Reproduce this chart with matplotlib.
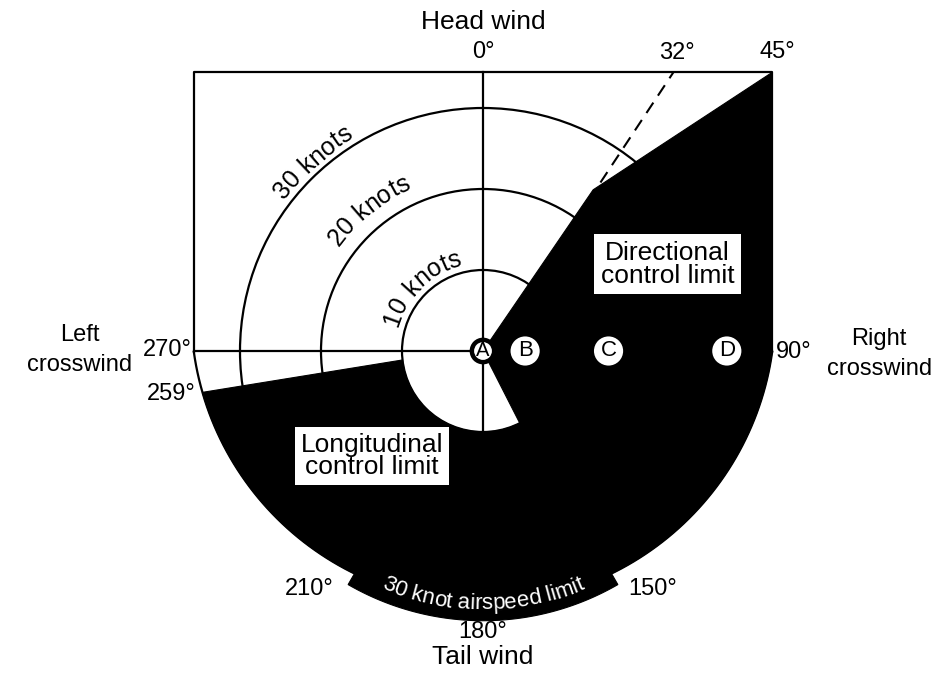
import numpy as np
import matplotlib.pyplot as plt
from matplotlib.patches import Polygon, Circle
from matplotlib.font_manager import FontProperties, findfont
from matplotlib import ft2font

plt.rcParams['font.family'] = ['Liberation Sans', 'DejaVu Sans']

# everything in knots, centre of the diagram = zero wind
rings = [10, 20, 30]
ring_labels = ['10 knots', '20 knots', '30 knots']
ring_label_bearing = [-44, -39, -42]
ring_label_radius = [10.9, 21.9, 30.8]

frame_half_width = 35.7
frame_top = 34.4
outer_centre_y = 4.9
outer_radius = 36.05
airspeed_limit = 33.3
airspeed_bearings = (150, 210)

# directional control limit edge (from centre up to the 45 deg corner)
dir_edge = [(0.0, 0.0), (13.6, 19.9)]
# longitudinal control limit edge (outer point, point on 10 kn ring)
long_outer = (-34.6, -5.1)
long_inner = (-9.9, -1.1)
inner_gap_bearing = 153
dashed_32 = [(14.5, 20.8), (23.5, 34.4)]

points = ['A', 'B', 'C', 'D']
points_x = [0.0, 5.2, 15.5, 30.1]

S = 8.1  # px per knot in the 943x684 picture
fig = plt.figure(figsize=(9.43, 6.84), dpi=100)
ax = fig.add_axes([0, 0, 1, 1])
ax.set_xlim(-483 / S, 460 / S)
ax.set_ylim(-333 / S, 351 / S)
ax.axis('off')

LW = 1.6
FS = 17


def brg(b, r):
    b = np.radians(b)
    return r * np.sin(b), r * np.cos(b)


def outer_psi_at_bearing(b):
    # where the ray on bearing b meets the outer arc
    s, c = np.sin(np.radians(b)), np.cos(np.radians(b))
    k = outer_centre_y
    t = c * k + np.sqrt((c * k) ** 2 - (k ** 2 - outer_radius ** 2))
    x, y = t * s, t * c
    return np.arctan2(y - k, x)


def outer_arc(psi0, psi1, n=120):
    psi = np.linspace(psi0, psi1, n)
    return np.column_stack([outer_radius * np.cos(psi),
                            outer_centre_y + outer_radius * np.sin(psi)])


W = frame_half_width
dy = np.sqrt(outer_radius ** 2 - W ** 2)
psi_R = np.arctan2(-dy, W)
psi_L = np.arctan2(-dy, -W)
if psi_L > psi_R:
    psi_L -= 2 * np.pi

# rings, axes, frame
for r in rings:
    ax.add_patch(Circle((0, 0), r, fill=False, lw=LW, ec='black', zorder=1))
ax.plot([0, 0], [frame_top, -11], color='black', lw=LW, zorder=1)
ax.plot([-W, W], [0, 0], color='black', lw=LW, zorder=1)
ax.plot([-W, -W, W, W], [outer_centre_y - dy, frame_top, frame_top, outer_centre_y - dy],
        color='black', lw=LW, zorder=1)
arc = outer_arc(psi_R, psi_L)
ax.plot(arc[:, 0], arc[:, 1], color='black', lw=LW, zorder=1)
ax.plot([p[0] for p in dashed_32], [p[1] for p in dashed_32], color='black',
        lw=1.5, ls=(0, (6, 4)), zorder=1)

# black limit region
verts = list(dir_edge)
verts.append((W, frame_top))
verts.append((W, outer_centre_y - dy))
psi150 = outer_psi_at_bearing(airspeed_bearings[0])
psi210 = outer_psi_at_bearing(airspeed_bearings[1])
if psi210 > psi150:
    psi210 -= 2 * np.pi
verts += [tuple(p) for p in outer_arc(psi_R, psi150)]
bb = np.linspace(airspeed_bearings[0], airspeed_bearings[1], 80)
verts += [brg(b, airspeed_limit) for b in bb]
psiL = np.arctan2(long_outer[1] - outer_centre_y, long_outer[0])
if psiL > psi210:
    psiL -= 2 * np.pi
verts += [tuple(p) for p in outer_arc(psi210, psiL)]
verts.append(long_outer)
verts.append(long_inner)
b_in = np.degrees(np.arctan2(long_inner[0], long_inner[1])) % 360
bb = np.linspace(b_in, inner_gap_bearing, 100)
verts += [brg(b, 10) for b in bb]
ax.add_patch(Polygon(verts, closed=True, fc='black', ec='black', lw=0.8, zorder=2))

# point markers
ax.add_patch(Circle((points_x[0], 0), 1.65, fc='black', ec='none', zorder=4))
ax.add_patch(Circle((points_x[0], 0), 1.1, fc='white', ec='none', zorder=5))
ax.text(points_x[0], 0, points[0], ha='center', va='center', fontsize=14.5, zorder=6)
for lab, x in zip(points[1:], points_x[1:]):
    ax.add_patch(Circle((x, 0), 1.8, fc='white', ec='none', zorder=4))
    ax.text(x, 0, lab, ha='center', va='center', fontsize=16, zorder=6)


# curved text: characters spaced by their font advances
def arc_text(s, r, centre_b, fs, color='black', lower=False):
    prop = FontProperties(family=['Liberation Sans'], size=fs)
    font = ft2font.FT2Font(findfont(prop))
    font.set_size(fs, fig.dpi)
    adv = []
    for ch in s:
        g = font.load_char(ord(ch))
        adv.append(g.linearHoriAdvance / 65536.0)
    adv = np.array(adv)
    centres = np.concatenate([[0], np.cumsum(adv)[:-1]]) + adv / 2 - adv.sum() / 2
    px_per = ax.transData.transform((1, 0))[0] - ax.transData.transform((0, 0))[0]
    for ch, off in zip(s, centres):
        if ch == ' ':
            continue
        d = np.degrees(off / (r * px_per))
        if lower:
            b = centre_b - d
            rot = 180 - b
        else:
            b = centre_b + d
            rot = -b
        x, y = brg(b, r)
        ax.text(x, y, ch, fontproperties=prop, color=color, rotation=rot,
                rotation_mode='anchor', ha='center', va='baseline', zorder=6)


for r, lab, b in zip(ring_label_radius, ring_labels, ring_label_bearing):
    arc_text(lab, r, b, 18)
arc_text('30 knot airspeed limit', 31.9, 180, 16, color='white', lower=True)

# boxed limit labels
ax.text(22.8, 10.7, 'Directional\ncontrol limit', ha='center', va='center',
        fontsize=19, linespacing=0.95,
        bbox=dict(boxstyle='square,pad=0.25', fc='white', ec='none'), zorder=6)
ax.text(-13.7, -13.0, 'Longitudinal\ncontrol limit', ha='center', va='center',
        fontsize=19, linespacing=0.9,
        bbox=dict(boxstyle='square,pad=0.22', fc='white', ec='none'), zorder=6)

# bearing labels
ax.text(0, 40.6, 'Head wind', ha='center', va='center', fontsize=19)
ax.text(0, 36.9, '0°', ha='center', va='center', fontsize=FS)
ax.text(23.9, 36.8, '32°', ha='center', va='center', fontsize=FS)
ax.text(36.3, 36.9, '45°', ha='center', va='center', fontsize=FS)
ax.text(-35.9, 0.1, '270°', ha='right', va='center', fontsize=FS)
ax.text(-35.5, -5.3, '259°', ha='right', va='center', fontsize=FS)
ax.text(-49.8, 0.1, 'Left\ncrosswind', ha='center', va='center', fontsize=FS,
        linespacing=1.45)
ax.text(36.2, -0.1, '90°', ha='left', va='center', fontsize=FS)
ax.text(48.9, -0.4, 'Right\ncrosswind', ha='center', va='center', fontsize=FS,
        linespacing=1.45)
ax.text(-18.5, -29.4, '210°', ha='right', va='center', fontsize=FS)
ax.text(17.9, -29.4, '150°', ha='left', va='center', fontsize=FS)
ax.text(0, -34.7, '180°', ha='center', va='center', fontsize=FS)
ax.text(0, -37.8, 'Tail wind', ha='center', va='center', fontsize=19)

fig.savefig('out.png', dpi=100)
